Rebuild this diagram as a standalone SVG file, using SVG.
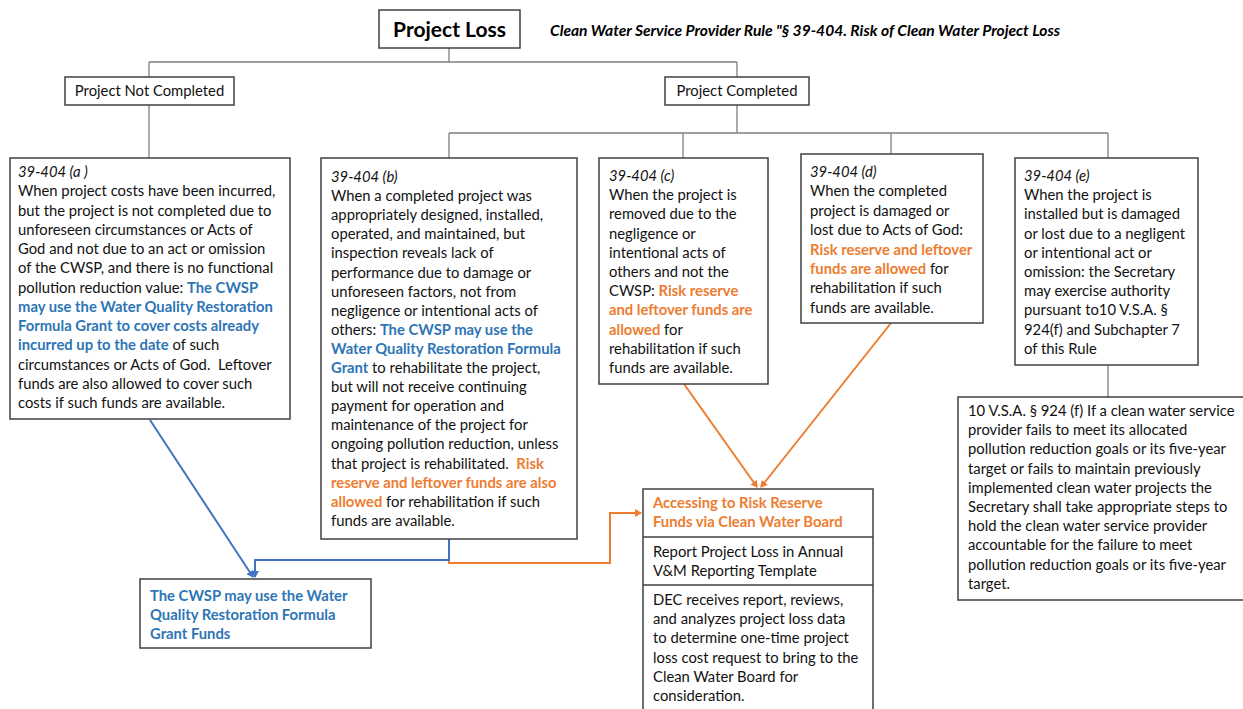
<svg xmlns="http://www.w3.org/2000/svg" width="1243" height="709" viewBox="0 0 1243 709">
<style>
.box{fill:#fff;stroke:#404040;stroke-width:1.5}
.t{font-family:Lato,"Liberation Sans",sans-serif;font-size:14.8px;fill:#111}
.i{font-style:italic}
.b{fill:#2E75B6;font-weight:bold}
.o{fill:#ED7D31;font-weight:bold}
.con{fill:none;stroke:#7f7f7f;stroke-width:1.3}
.bl{fill:none;stroke:#4472C4;stroke-width:2}
.or{fill:none;stroke:#ED7D31;stroke-width:2}
</style>
<defs>
<marker id="ab" markerWidth="8" markerHeight="8" refX="6" refY="4" orient="auto" markerUnits="userSpaceOnUse"><path d="M0,0 L7,4 L0,8 Z" fill="#4472C4"/></marker>
<marker id="ao" markerWidth="8" markerHeight="8" refX="6" refY="4" orient="auto" markerUnits="userSpaceOnUse"><path d="M0,0 L7,4 L0,8 Z" fill="#ED7D31"/></marker>
</defs>
<rect width="1243" height="709" fill="#fff"/>

<g id="connectors">
<path class="con" d="M449,48 V62 M149,62 H737 M149,62 V77 M737,62 V77"/>
<path class="con" d="M149,105 V158"/>
<path class="con" d="M737,105 V133 M449,133 H1108 M449,133 V158 M683,133 V158 M891,133 V154 M1108,133 V158"/>
<path class="con" d="M1108,365 V397"/>
<path class="or" d="M449,539 V563 H610 V513 H641" marker-end="url(#ao)"/>
<path class="bl" d="M449,539 V560 H255 V577" marker-end="url(#ab)"/>
<path class="bl" d="M150,420 L253,577" marker-end="url(#ab)"/>
<path class="or" d="M684,384 L757,487" marker-end="url(#ao)"/>
<path class="or" d="M891,323 L761,487" marker-end="url(#ao)"/>
</g>

<g id="title">
<rect class="box" x="379" y="10" width="141" height="38"/>
<text x="449.5" y="37" text-anchor="middle" style="font-family:Lato,'Liberation Sans',sans-serif;font-size:21px;font-weight:bold;fill:#000">Project Loss</text>
</g>
<g id="subtitle">
<text x="550" y="36" style="font-family:Lato,'Liberation Sans',sans-serif;font-size:15.6px;font-weight:bold;font-style:italic;fill:#000">Clean Water Service Provider Rule "§ 39-404. Risk of Clean Water Project Loss</text>
</g>

<g id="not-completed">
<rect class="box" x="65" y="77" width="169" height="28"/>
<text class="t" x="149.5" y="96" text-anchor="middle">Project Not Completed</text>
</g>
<g id="completed">
<rect class="box" x="665" y="77" width="144" height="28"/>
<text class="t" x="737" y="96" text-anchor="middle">Project Completed</text>
</g>

<g id="rule-a">
<rect class="box" x="10" y="158" width="280" height="261"/>
<text class="t" x="18">
<tspan x="18" y="177" class="i">39-404 (a )</tspan>
<tspan x="18" y="196.25">When project costs have been incurred,</tspan>
<tspan x="18" y="215.5">but the project is not completed due to</tspan>
<tspan x="18" y="234.75">unforeseen circumstances or Acts of</tspan>
<tspan x="18" y="254">God and not due to an act or omission</tspan>
<tspan x="18" y="273.25">of the CWSP, and there is no functional</tspan>
<tspan x="18" y="292.5">pollution reduction value: <tspan class="b">The CWSP</tspan></tspan>
<tspan x="18" y="311.75" class="b">may use the Water Quality Restoration</tspan>
<tspan x="18" y="331" class="b">Formula Grant to cover costs already</tspan>
<tspan x="18" y="350.25"><tspan class="b">incurred up to the date</tspan> of such</tspan>
<tspan x="18" y="369.5">circumstances or Acts of God.&#160; Leftover</tspan>
<tspan x="18" y="388.75">funds are also allowed to cover such</tspan>
<tspan x="18" y="408">costs if such funds are available.</tspan>
</text>
</g>

<g id="rule-b">
<rect class="box" x="321" y="158" width="256" height="381"/>
<text class="t">
<tspan x="331" y="182" class="i">39-404 (b)</tspan>
<tspan x="331" y="201.1">When a completed project was</tspan>
<tspan x="331" y="220.2">appropriately designed, installed,</tspan>
<tspan x="331" y="239.3">operated, and maintained, but</tspan>
<tspan x="331" y="258.4">inspection reveals lack of</tspan>
<tspan x="331" y="277.5">performance due to damage or</tspan>
<tspan x="331" y="296.6">unforeseen factors, not from</tspan>
<tspan x="331" y="315.7">negligence or intentional acts of</tspan>
<tspan x="331" y="334.8">others: <tspan class="b">The CWSP may use the</tspan></tspan>
<tspan x="331" y="353.9" class="b">Water Quality Restoration Formula</tspan>
<tspan x="331" y="373"><tspan class="b">Grant</tspan> to rehabilitate the project,</tspan>
<tspan x="331" y="392.1">but will not receive continuing</tspan>
<tspan x="331" y="411.2">payment for operation and</tspan>
<tspan x="331" y="430.3">maintenance of the project for</tspan>
<tspan x="331" y="449.4">ongoing pollution reduction, unless</tspan>
<tspan x="331" y="468.5">that project is rehabilitated.&#160; <tspan class="o">Risk</tspan></tspan>
<tspan x="331" y="487.6" class="o">reserve and leftover funds are also</tspan>
<tspan x="331" y="506.7"><tspan class="o">allowed</tspan> for rehabilitation if such</tspan>
<tspan x="331" y="525.8">funds are available.</tspan>
</text>
</g>

<g id="rule-c">
<rect class="box" x="599" y="158" width="169" height="226"/>
<text class="t">
<tspan x="609" y="181" class="i">39-404 (c)</tspan>
<tspan x="609" y="200.2">When the project is</tspan>
<tspan x="609" y="219.4">removed due to the</tspan>
<tspan x="609" y="238.6">negligence or</tspan>
<tspan x="609" y="257.8">intentional acts of</tspan>
<tspan x="609" y="277">others and not the</tspan>
<tspan x="609" y="296.2">CWSP: <tspan class="o">Risk reserve</tspan></tspan>
<tspan x="609" y="315.4" class="o">and leftover funds are</tspan>
<tspan x="609" y="334.6"><tspan class="o">allowed</tspan> for</tspan>
<tspan x="609" y="353.8">rehabilitation if such</tspan>
<tspan x="609" y="373">funds are available.</tspan>
</text>
</g>

<g id="rule-d">
<rect class="box" x="801" y="154" width="182" height="169"/>
<text class="t">
<tspan x="810" y="177" class="i">39-404 (d)</tspan>
<tspan x="810" y="196.4">When the completed</tspan>
<tspan x="810" y="215.8">project is damaged or</tspan>
<tspan x="810" y="235.2">lost due to Acts of God:</tspan>
<tspan x="810" y="254.6" class="o">Risk reserve and leftover</tspan>
<tspan x="810" y="274"><tspan class="o">funds are allowed</tspan> for</tspan>
<tspan x="810" y="293.4">rehabilitation if such</tspan>
<tspan x="810" y="312.8">funds are available.</tspan>
</text>
</g>

<g id="rule-e">
<rect class="box" x="1015" y="158" width="183" height="207"/>
<text class="t">
<tspan x="1024" y="181" class="i">39-404 (e)</tspan>
<tspan x="1024" y="200.2">When the project is</tspan>
<tspan x="1024" y="219.4">installed but is damaged</tspan>
<tspan x="1024" y="238.6">or lost due to a negligent</tspan>
<tspan x="1024" y="257.8">or intentional act or</tspan>
<tspan x="1024" y="277">omission: the Secretary</tspan>
<tspan x="1024" y="296.2">may exercise authority</tspan>
<tspan x="1024" y="315.4">pursuant to10 V.S.A. §</tspan>
<tspan x="1024" y="334.6">924(f) and Subchapter 7</tspan>
<tspan x="1024" y="353.8">of this Rule</tspan>
</text>
</g>

<g id="statute">
<rect class="box" x="958" y="397" width="290" height="203"/>
<text class="t">
<tspan x="968" y="416">10 V.S.A. § 924 (f) If a clean water service</tspan>
<tspan x="968" y="435.2">provider fails to meet its allocated</tspan>
<tspan x="968" y="454.4">pollution reduction goals or its five-year</tspan>
<tspan x="968" y="473.6">target or fails to maintain previously</tspan>
<tspan x="968" y="492.8">implemented clean water projects the</tspan>
<tspan x="968" y="512">Secretary shall take appropriate steps to</tspan>
<tspan x="968" y="531.2">hold the clean water service provider</tspan>
<tspan x="968" y="550.4">accountable for the failure to meet</tspan>
<tspan x="968" y="569.6">pollution reduction goals or its five-year</tspan>
<tspan x="968" y="588.8">target.</tspan>
</text>
</g>

<g id="grant-funds">
<rect class="box" x="140" y="579" width="231" height="69"/>
<text class="t b">
<tspan x="150" y="601">The CWSP may use the Water</tspan>
<tspan x="150" y="620">Quality Restoration Formula</tspan>
<tspan x="150" y="639">Grant Funds</tspan>
</text>
</g>

<g id="risk-reserve">
<rect class="box" x="643" y="489" width="230" height="230"/>
<path d="M643,537 H873 M643,585 H873" stroke="#404040" stroke-width="1.5"/>
<text class="t o">
<tspan x="653" y="508">Accessing to Risk Reserve</tspan>
<tspan x="653" y="527">Funds via Clean Water Board</tspan>
</text>
<text class="t">
<tspan x="653" y="557">Report Project Loss in Annual</tspan>
<tspan x="653" y="576">V&amp;M Reporting Template</tspan>
<tspan x="653" y="605">DEC receives report, reviews,</tspan>
<tspan x="653" y="624.2">and analyzes project loss data</tspan>
<tspan x="653" y="643.4">to determine one-time project</tspan>
<tspan x="653" y="662.6">loss cost request to bring to the</tspan>
<tspan x="653" y="681.8">Clean Water Board for</tspan>
<tspan x="653" y="701">consideration.</tspan>
</text>
</g>
</svg>
